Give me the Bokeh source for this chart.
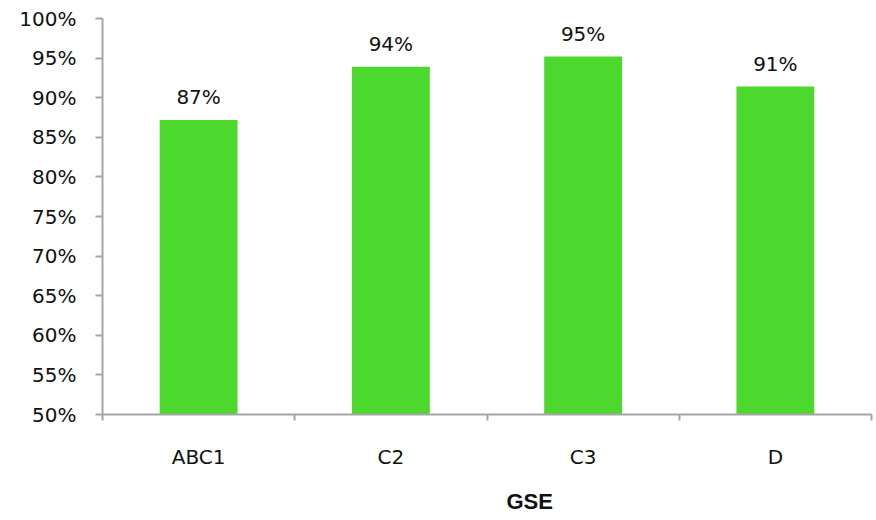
from bokeh.plotting import figure
from bokeh.models import ColumnDataSource, FixedTicker, NumeralTickFormatter, Range1d, Title, LabelSet
from bokeh.core.properties import value
from bokeh.embed import file_html
from bokeh.resources import INLINE

categories = ["ABC1", "C2", "C3", "D"]
values = [0.872, 0.939, 0.952, 0.914]
y_ticks = [0.50, 0.55, 0.60, 0.65, 0.70, 0.75, 0.80, 0.85, 0.90, 0.95, 1.00]
axis_title = "GSE"

xs = [i + 0.5 for i in range(len(categories))]
labels = [f"{round(v * 100)}%" for v in values]
src = ColumnDataSource(dict(x=xs, top=values, label=labels))

p = figure(frame_width=769, frame_height=396,
           x_range=Range1d(0, len(categories)), y_range=Range1d(0.5, 1.0),
           output_backend="svg", toolbar_location=None,
           min_border_left=102, min_border_right=5, min_border_top=18, min_border_bottom=106)
p.outline_line_color = None
p.grid.grid_line_color = None

p.vbar(x="x", top="top", bottom=0.5, width=0.405, source=src,
       fill_color="#4cd82c", line_color=None)

font = "DejaVu Sans"
lab = LabelSet(x="x", y="top", text="label", source=src, text_align="center",
               text_baseline="bottom", y_offset=11, text_font=value(font),
               text_font_size=value("20px"), text_color=value("#111111"))
p.add_layout(lab)

# y axis
ya = p.yaxis[0]
ya.ticker = FixedTicker(ticks=y_ticks)
ya.formatter = NumeralTickFormatter(format="0%")
ya.axis_line_color = "#a6a6a6"
ya.axis_line_width = 2
ya.major_tick_line_color = "#a6a6a6"
ya.major_tick_line_width = 2
ya.major_tick_out = 7
ya.major_tick_in = 0
ya.minor_tick_line_color = None
ya.major_label_standoff = 19
ya.major_label_text_font = font
ya.major_label_text_font_size = "20px"
ya.major_label_text_color = "#111111"

# x axis
xa = p.xaxis[0]
xa.ticker = FixedTicker(ticks=xs, minor_ticks=list(range(len(categories) + 1)))
xa.major_label_overrides = {x: c for x, c in zip(xs, categories)}
xa.axis_line_color = "#a6a6a6"
xa.axis_line_width = 2
xa.major_tick_line_color = None
xa.major_tick_out = 0
xa.major_tick_in = 0
xa.minor_tick_line_color = "#a6a6a6"
xa.minor_tick_line_width = 2
xa.minor_tick_out = 6
xa.minor_tick_in = 0
xa.major_label_standoff = 24
xa.major_label_text_font = font
xa.major_label_text_font_size = "20px"
xa.major_label_text_color = "#111111"

p.add_layout(Title(text=axis_title, align="left", offset=404, text_font="Liberation Sans",
                   text_font_style="bold", text_font_size="22px", text_color="#111111",
                   standoff=31), "below")

open("out.html", "w").write(file_html(p, INLINE))
